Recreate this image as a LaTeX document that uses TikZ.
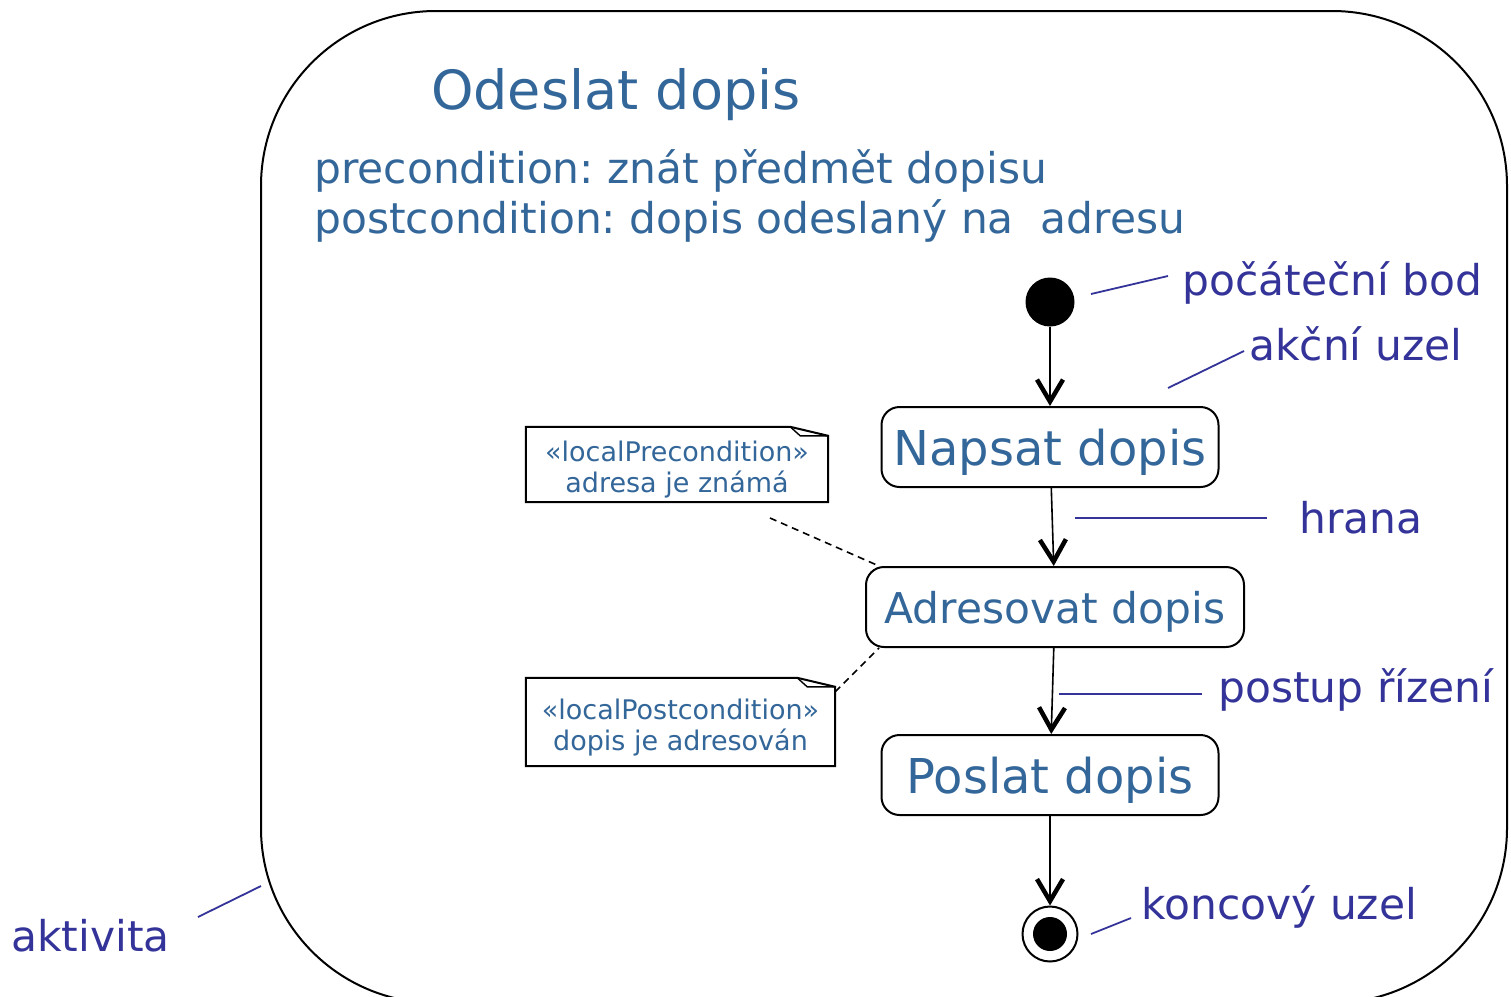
\documentclass[tikz,border=0pt]{standalone}
\usepackage{fontspec}
\setmainfont{DejaVu Sans}
\usetikzlibrary{arrows.meta}

\definecolor{umlblue}{HTML}{336699}
\definecolor{annoblue}{HTML}{333399}

\newcommand{\titlefont}{\fontsize{54pt}{62pt}\selectfont}
\newcommand{\condfont}{\fontsize{42.4pt}{50pt}\selectfont}
\newcommand{\actfont}{\fontsize{48pt}{56pt}\selectfont}
\newcommand{\actsmallfont}{\fontsize{42.4pt}{50pt}\selectfont}
\newcommand{\notefont}{\fontsize{27pt}{31pt}\selectfont}
\newcommand{\annofont}{\fontsize{42.4pt}{50pt}\selectfont}

% note outline with folded corner
\newcommand{\dogear}[1]{%
  \draw[line width=2pt] (#1.south west) -- (#1.north west) -- ([xshift=-38pt]#1.north east)
    -- ([yshift=-9pt]#1.north east) -- (#1.south east) -- cycle;
  \draw[line width=1.4pt] ([xshift=-38pt]#1.north east) -- ([xshift=-28pt,yshift=-9pt]#1.north east)
    -- ([yshift=-9pt]#1.north east);}

\tikzset{
  activity/.style={draw, line width=2pt, rounded corners=175pt, minimum width=1246pt,
    minimum height=992pt, inner sep=0pt},
  action/.style={draw, line width=2pt, rounded corners=18pt, minimum height=80pt,
    inner sep=0pt, text depth=0pt, text=umlblue, font=\actfont},
  initial/.style={circle, fill=black, minimum size=49pt, inner sep=0pt},
  final/.style={circle, draw, line width=2pt, minimum size=55pt, inner sep=0pt,
    path picture={\fill[black] (path picture bounding box.center) circle (17pt);}},
  flow/.style={line width=1.6pt, -{Straight Barb[length=22pt,width=26pt,line width=4.5pt]}},
  notebox/.style={inner sep=0pt},
  notetext/.style={inner sep=0pt, align=center, text=umlblue, font=\notefont},
  dependency/.style={line width=1.6pt, dash pattern=on 7pt off 5pt},
  pointer/.style={draw=annoblue, line width=1.8pt},
  anno/.style={inner sep=0pt, anchor=base west, text=annoblue, font=\annofont},
  heading/.style={inner sep=0pt, anchor=base west, text=umlblue},
}

\begin{document}
\frenchspacing
\begin{tikzpicture}[x=1pt, y=-1pt]
  \useasboundingbox (0,0) rectangle (1511,996);

  % activity frame
  \node[activity] (akt) at (884,507) {};
  \node[heading, font=\titlefont] (title) at (431,109) {Odeslat dopis};
  \node[heading, font=\condfont] (precond) at (314,183) {precondition: znát předmět dopisu};
  \node[heading, font=\condfont] (postcond) at (314,233) {postcondition: dopis odeslaný na \ adresu};

  % nodes
  \node[initial] (init) at (1050,302) {};
  \node[action, minimum width=337pt] (napsat) at (1050,447) {Napsat dopis};
  \node[action, minimum width=378pt, font=\actsmallfont] (adresovat) at (1055,607) {Adresovat dopis};
  \node[action, minimum width=337pt] (poslat) at (1050,775) {Poslat dopis};
  \node[final] (konec) at (1050,934) {};

  \draw[flow] (init) -- (napsat);
  \draw[flow] (napsat) -- (adresovat);
  \draw[flow] (adresovat) -- (poslat);
  \draw[flow] (poslat) -- (konec);

  % notes
  \node[notebox, minimum width=302pt, minimum height=75pt] (prenote) at (677,464.5) {};
  \dogear{prenote}
  \node[notetext] (pretext) at (677,470) {«localPrecondition»\\adresa je známá};
  \node[notebox, minimum width=309pt, minimum height=88pt] (postnote) at (680.5,722) {};
  \dogear{postnote}
  \node[notetext] (posttext) at (680.5,728) {«localPostcondition»\\dopis je adresován};

  \coordinate (prefree) at (770,518);
  \draw[dependency] (prefree) -- ([xshift=14pt]adresovat.north west);
  \draw[dependency] ([yshift=-14pt]postnote.north east) -- ([xshift=14pt]adresovat.south west);

  % annotations
  \node[anno] (lstart) at (1182,295) {počáteční bod};
  \node[anno] (laction) at (1249,360) {akční uzel};
  \node[anno] (ledge) at (1299,533) {hrana};
  \node[anno] (lflow) at (1218,702) {postup řízení};
  \node[anno] (lfinal) at (1141,919) {koncový uzel};
  \node[anno] (lakt) at (11,951) {aktivita};

  \coordinate (s1) at (1091,294);  \coordinate (s2) at (1168,276);
  \coordinate (a1) at (1168,388);  \coordinate (a2) at (1244,351);
  \coordinate (e1) at (1075,518);  \coordinate (e2) at (1267,518);
  \coordinate (f1) at (1059,694);  \coordinate (f2) at (1202,694);
  \coordinate (k1) at (1091,934);  \coordinate (k2) at (1131,918);
  \coordinate (t1) at (198,917);   \coordinate (t2) at (261,886);
  \draw[pointer] (s1) -- (s2);
  \draw[pointer] (a1) -- (a2);
  \draw[pointer] (e1) -- (e2);
  \draw[pointer] (f1) -- (f2);
  \draw[pointer] (k1) -- (k2);
  \draw[pointer] (t1) -- (t2);
\end{tikzpicture}
\end{document}
